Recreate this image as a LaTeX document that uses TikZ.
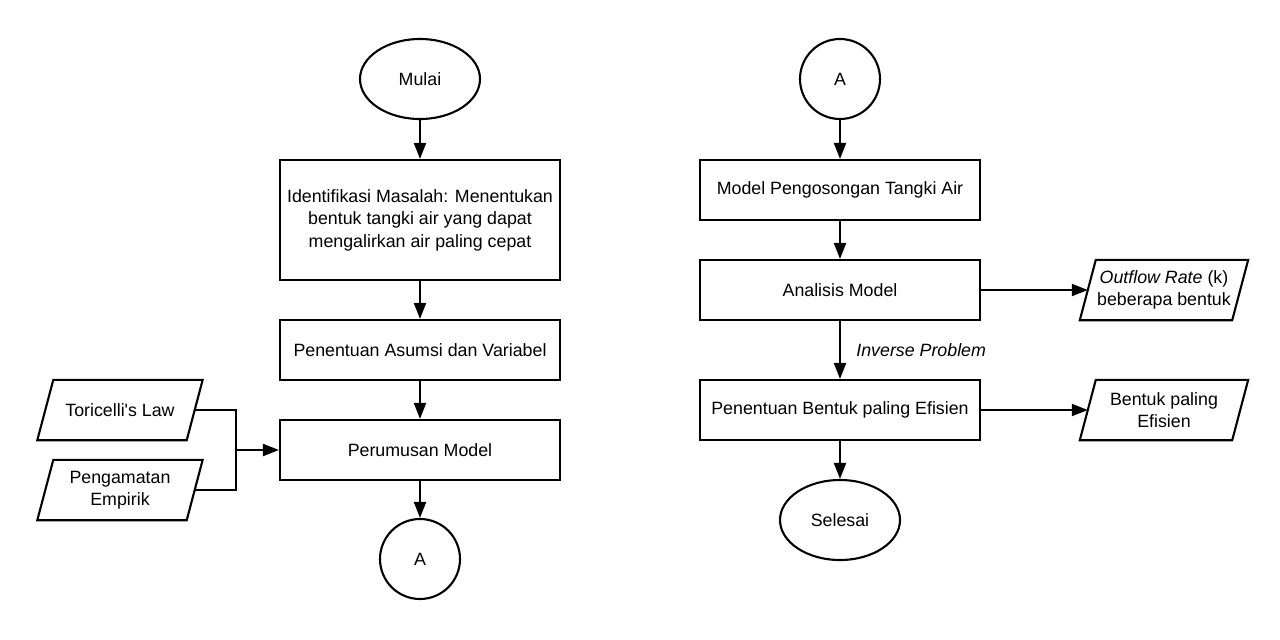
\documentclass[tikz,border=0pt]{standalone}
\usepackage{fontspec}
\setmainfont{Liberation Sans}
\newfontfamily\plainfont{Liberation Sans}
\usetikzlibrary{calc,arrows.meta,shapes.geometric}
\newcommand\drawpara[1]{\draw[lw,line join=miter] (#1.south west) -- ($(#1.north west)+(16,0)$) -- (#1.north east) -- ($(#1.south east)+(-16,0)$) -- cycle;}
\begin{document}
\begin{tikzpicture}[x=1pt,y=-1pt,
  every node/.style={font=\fontsize{17.8}{22.5}\selectfont, text=black},
  lw/.style={line width=2.1pt},
  procbox/.style={lw, draw, rectangle, minimum width=280pt, inner sep=2pt, align=center},
  termin/.style={lw, draw, ellipse, minimum width=120pt, minimum height=80pt, inner sep=0pt},
  conn/.style={lw, draw, circle, minimum size=80pt, inner sep=0pt},
  iobox/.style={rectangle, minimum width=165pt, minimum height=60pt, inner sep=0pt, align=center},
  arr/.style={lw, -{Triangle[length=16pt,width=12pt]}},
  ln/.style={lw}
]
\useasboundingbox (0,0) rectangle (1280,640);

% left column
\node[termin] (mulai) at (420,79) {Mulai};
\node[procbox, minimum height=120pt] (ident) at (420,220)
  {Identifikasi Masalah: Menentukan\\bentuk tangki air yang dapat\\mengalirkan air paling cepat};
\node[procbox, minimum height=60pt] (asumsi) at (420,350) {Penentuan Asumsi dan Variabel};
\node[procbox, minimum height=60pt] (rumus) at (420,450) {Perumusan Model};
\node[conn] (a1) at (420,559) {A};
\node[iobox] (tor) at (120,410) {Toricelli{\plainfont '}s Law};
\node[iobox] (emp) at (120,490) {Pengamatan\\Empirik};
\drawpara{tor}
\drawpara{emp}
\coordinate (j) at (236,450);

\draw[arr] (mulai) -- (ident);
\draw[arr] (ident) -- (asumsi);
\draw[arr] (asumsi) -- (rumus);
\draw[arr] (rumus) -- (a1);
\draw[ln] ($(tor.east)+(-8,0)$) -| (j) |- ($(emp.east)+(-8,0)$);
\draw[arr] (j) -- (rumus.west);

% right column
\node[conn] (a2) at (840,79) {A};
\node[procbox, minimum height=60pt] (model) at (840,190) {Model Pengosongan Tangki Air};
\node[procbox, minimum height=60pt] (anal) at (840,290) {Analisis Model};
\node[procbox, minimum height=60pt] (tentu) at (840,410) {Penentuan Bentuk paling Efisien};
\node[termin] (selesai) at (840,520) {Selesai};
\node[iobox, minimum width=168pt] (out) at (1164,290) {\textit{Outflow Rate} (k)\\beberapa bentuk};
\node[iobox, minimum width=168pt] (bentuk) at (1164,410) {Bentuk paling\\Efisien};
\drawpara{out}
\drawpara{bentuk}

\draw[arr] (a2) -- (model);
\draw[arr] (model) -- (anal);
\draw[arr] (anal) -- node[right=12pt, font=\itshape\fontsize{17.8}{22.5}\selectfont] {Inverse Problem} (tentu);
\draw[arr] (tentu) -- (selesai);
\draw[arr] (anal) -- ($(out.west)+(8,0)$);
\draw[arr] (tentu) -- ($(bentuk.west)+(8,0)$);
\end{tikzpicture}
\end{document}
